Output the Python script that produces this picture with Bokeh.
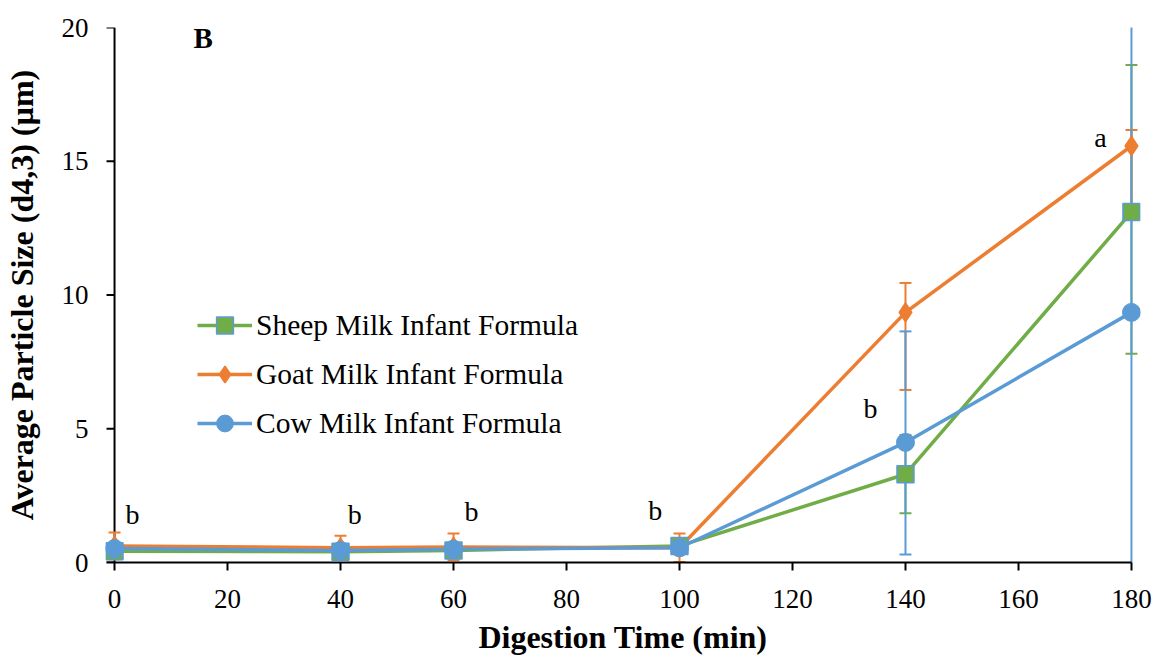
from bokeh.plotting import figure
from bokeh.models import Range1d, Legend, LegendItem, FixedTicker
from bokeh.core.properties import value
from bokeh.embed import file_html
from bokeh.resources import INLINE

# Sampling times (min)
time_min = [0, 40, 60, 100, 140, 180]

# Average particle size d4,3 (um) and error bar extents
sheep_mean = [0.42, 0.40, 0.45, 0.62, 3.30, 13.10]
sheep_err_up = [0.20, 0.20, 0.20, 0.10, 1.47, 5.50]
sheep_err_down = [0.20, 0.20, 0.20, 0.10, 1.46, 5.30]

goat_mean = [0.62, 0.55, 0.58, 0.55, 9.35, 15.57]
goat_err_up = [0.50, 0.45, 0.50, 0.53, 1.10, 0.60]
goat_err_down = [0.50, 0.45, 0.50, 0.53, 2.90, 2.20]

cow_mean = [0.52, 0.45, 0.50, 0.55, 4.49, 9.35]
cow_err_up = [0.15, 0.15, 0.15, 0.10, 4.15, 11.50]
cow_err_down = [0.15, 0.15, 0.15, 0.10, 4.19, 11.50]

series_names = ["Sheep Milk Infant Formula", "Goat Milk Infant Formula", "Cow Milk Infant Formula"]

# Significance letters
sig_text = ["b", "b", "b", "b", "b", "a"]
sig_x = [3.2, 42.5, 63.2, 95.7, 133.8, 174.5]
sig_y = [1.80, 1.78, 1.90, 1.95, 5.76, 15.90]

x_ticks = [0, 20, 40, 60, 80, 100, 120, 140, 160, 180]
y_ticks = [0, 5, 10, 15, 20]

x_title = "Digestion Time (min)"
y_title = "Average Particle Size (d4,3) (\u00b5m)"

GREEN = "#70AD47"
ORANGE = "#ED7D31"
BLUE = "#5B9BD5"
SERIF = "Liberation Serif"

# x range padded a little so the end-point markers are not cut by the frame
X0, X1 = -1.6, 181.6
p = figure(width=1158, height=657, output_backend="svg", toolbar_location=None,
           x_range=Range1d(X0, X1), y_range=Range1d(0, 20),
           min_border_left=105, min_border_right=18,
           min_border_top=27, min_border_bottom=95)
p.outline_line_color = None
p.background_fill_color = "white"
p.border_fill_color = "white"
p.xgrid.visible = False
p.ygrid.visible = False

# Bottom axis
xa = p.xaxis[0]
xa.ticker = FixedTicker(ticks=x_ticks)
xa.bounds = (-1.4, 180)
xa.axis_label = x_title
xa.axis_line_color = "black"
xa.axis_line_width = 2
xa.major_tick_line_color = "black"
xa.major_tick_line_width = 2
xa.major_tick_out = 8
xa.major_tick_in = 0
xa.minor_tick_line_color = None
xa.major_label_standoff = 19
xa.axis_label_standoff = 8

# Left axis: carries the tick labels and title; its line and ticks are drawn at x = 0 below
ya = p.yaxis[0]
ya.ticker = FixedTicker(ticks=y_ticks)
ya.axis_label = y_title
ya.axis_line_color = None
ya.major_tick_line_color = None
ya.minor_tick_line_color = None
ya.major_tick_out = 0
ya.major_tick_in = 0
ya.major_label_standoff = 17
ya.axis_label_standoff = 19

for ax in (xa, ya):
    ax.major_label_text_font = SERIF
    ax.major_label_text_font_size = "27px"
    ax.major_label_text_color = "black"
    ax.axis_label_text_font = SERIF
    ax.axis_label_text_font_size = "32px"
    ax.axis_label_text_font_style = "bold"
    ax.axis_label_text_color = "black"

# Vertical axis line and outward ticks at x = 0
TICK = 8 / 5.65  # tick length in minutes (8 px)
p.segment(x0=[0], y0=[y_ticks[0]], x1=[0], y1=[y_ticks[-1]], line_color="black", line_width=2)
p.segment(x0=[-TICK] * len(y_ticks), y0=y_ticks, x1=[0] * len(y_ticks), y1=y_ticks,
          line_color="black", line_width=2)

CAP = 1.06  # half-width of error bar caps, in minutes

def error_bars(mean, up, down, color):
    hi = [m + u for m, u in zip(mean, up)]
    lo = [m - d for m, d in zip(mean, down)]
    p.segment(x0=time_min, y0=lo, x1=time_min, y1=hi, line_color=color, line_width=2)
    left = [t - CAP for t in time_min]
    right = [t + CAP for t in time_min]
    p.segment(x0=left, y0=hi, x1=right, y1=hi, line_color=color, line_width=2)
    p.segment(x0=left, y0=lo, x1=right, y1=lo, line_color=color, line_width=2)

error_bars(sheep_mean, sheep_err_up, sheep_err_down, GREEN)
error_bars(goat_mean, goat_err_up, goat_err_down, ORANGE)
error_bars(cow_mean, cow_err_up, cow_err_down, BLUE)

l_sheep = p.line(time_min, sheep_mean, line_color=GREEN, line_width=3.5)
l_goat = p.line(time_min, goat_mean, line_color=ORANGE, line_width=3.5)
l_cow = p.line(time_min, cow_mean, line_color=BLUE, line_width=3.5)

m_sheep = p.scatter(time_min, sheep_mean, marker="square", size=17,
                    fill_color=GREEN, line_color=BLUE, line_width=1.5)
m_goat = p.scatter(time_min, goat_mean, marker="diamond", size=19,
                   fill_color=ORANGE, line_color=ORANGE, line_width=1.5)
m_cow = p.scatter(time_min, cow_mean, marker="circle", size=18,
                  fill_color=BLUE, line_color=BLUE, line_width=1)

# Significance letters and panel tag
p.text(x=sig_x, y=sig_y, text=sig_text, text_font=value(SERIF),
       text_font_size="28px", text_color="black",
       text_align="center", text_baseline="middle")
p.text(x=[15.7], y=[19.6], text=["B"], text_font=value(SERIF),
       text_font_size="29px", text_font_style="bold", text_color="black",
       text_align="center", text_baseline="middle")

legend = Legend(items=[
    LegendItem(label=series_names[0], renderers=[l_sheep, m_sheep]),
    LegendItem(label=series_names[1], renderers=[l_goat, m_goat]),
    LegendItem(label=series_names[2], renderers=[l_cow, m_cow]),
], location=(92, 118))
legend.glyph_width = 55
legend.glyph_height = 42
legend.spacing = 7
legend.padding = 0
legend.margin = 0
legend.label_standoff = 4
legend.label_text_font = SERIF
legend.label_text_font_size = "29.5px"
legend.label_text_color = "black"
legend.label_text_baseline = "middle"
legend.border_line_color = None
legend.background_fill_alpha = 0
p.add_layout(legend, "center")

open("out.html", "w").write(file_html(p, INLINE))
